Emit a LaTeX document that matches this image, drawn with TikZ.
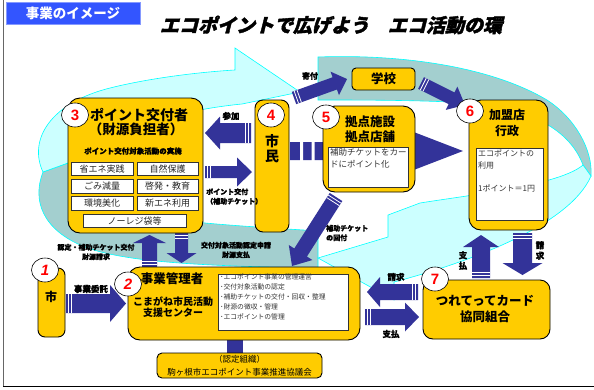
\documentclass[tikz,border=0pt]{standalone}
\usepackage{fontspec}
\newfontfamily\jp{Noto Sans CJK JP}
\newfontfamily\jpheavy{Noto Sans CJK JP}[BoldFeatures={FakeBold=1.2}]
\newfontfamily\jptitle{Noto Sans CJK JP}[FakeSlant=0.25,BoldFeatures={FakeBold=2}]
\newfontfamily\numfont{Liberation Sans}
\usetikzlibrary{calc,positioning,shapes.geometric}

\definecolor{boxyellow}{HTML}{FFCC00}
\definecolor{arrowblue}{HTML}{333399}
\definecolor{ringfront}{HTML}{CCFFFF}
\definecolor{ringback}{HTML}{A3CFCF}
\definecolor{ringedge}{HTML}{00FFFF}
\definecolor{tagblue}{HTML}{3355FF}

\newcommand\fsz[2]{\fontsize{#1}{#2}\selectfont}

\tikzset{
  ybox/.style={draw=black, line width=0.9pt, fill=boxyellow, rounded corners=#1, inner sep=0pt},
  ybox/.default=10pt,
  wbox/.style={draw=black!80, line width=0.6pt, fill=white, inner sep=0pt},
  cell/.style={wbox, minimum width=61pt, minimum height=13.5pt, font=\jp\fsz{9}{9}, text=black!85},
  note/.style={inner sep=0pt, align=left, text=black!80, font=\jp\fsz{8.5}{12}},
  numc/.style={ellipse, draw=black, line width=0.6pt, fill=white, minimum width=27pt,
    minimum height=24pt, inner sep=0pt, text=red, font=\numfont\bfseries\fsz{15}{15}},
  numci/.style={numc, font=\numfont\bfseries\itshape\fsz{15}{15}},
  ttl/.style={inner sep=0pt, font=\jp\bfseries\fsz{#1}{#1}},
  lbl/.style={inner sep=0pt, font=\jpheavy\bfseries\fsz{8.5}{10.5}},
  lbls/.style={inner sep=0pt, font=\jpheavy\bfseries\fsz{7}{9.5}},
  ringA/.style={fill=ringfront, draw=ringedge, line width=0.6pt},
  ringB/.style={fill=ringback, draw=ringedge, line width=0.6pt},
  stripe/.style={white, line width=0.8pt}
}

% block arrow: [stripes] {tail}{tip}{shaft half width}{head half width}{head length}
\newcommand\blockarrow[6][2.5pt,5.5pt]{%
  \coordinate (ba) at ($(#3)!#6!(#2)$);
  \fill[arrowblue] ($(#2)!#4!90:(#3)$) -- ($(ba)!#4!90:(#3)$) -- ($(ba)!#5!90:(#3)$) -- (#3)
    -- ($(ba)!#5!-90:(#3)$) -- ($(ba)!#4!-90:(#3)$) -- ($(#2)!#4!-90:(#3)$) -- cycle;
  \foreach \sd in {#1}{%
    \coordinate (bs) at ($(#2)!\sd!(#3)$);
    \draw[stripe] ($(bs)!#4!90:(#3)$) -- ($(bs)!#4!-90:(#3)$);}%
}

\begin{document}
\begin{tikzpicture}[x=1pt,y=-1pt]
\useasboundingbox (0,0) rectangle (594,389);

% frame
\draw[black!60, line width=0.8pt] (3,0) -- (3,386.5);
\draw[black, line width=0.8pt] (3,386.5) -- (594,386.5);

% the ring
\path[ringB] (43,172) -- (68,163) .. controls (110,200) and (160,218) .. (205,223)
  .. controls (250,227) and (290,229) .. (318,231) -- (318,268)
  .. controls (180,266) and (120,260) .. (85,247) .. controls (42,230) and (32,200) .. (43,172) -- cycle;
\path[ringA] (43,172) .. controls (28,140) and (50,103) .. (110,88) .. controls (150,78) and (200,72) .. (235,70)
  -- (235,48) -- (300,92) -- (242,104) .. controls (160,112) and (90,140) .. (68,163) -- cycle;
\path[ringB] (318,57) .. controls (400,54) and (490,66) .. (547,100) .. controls (575,118) and (593,150) .. (591,176)
  -- (583,165) .. controls (570,130) and (530,108) .. (470,103) .. controls (420,100) and (360,100) .. (318,100) -- cycle;
\path[ringA] (583,165) .. controls (560,185) and (470,195) .. (420,203) -- (388,215) -- (388,237) -- (318,258)
  -- (394,300) -- (394,282) .. controls (470,262) and (570,225) .. (591,176) -- cycle;

% arrows
\coordinate (sanka-s) at (251,133);   \coordinate (sanka-e) at (205,133);
\coordinate (kofu-s) at (205,172);    \coordinate (kofu-e) at (252,172);
\coordinate (riyo-s) at (290,151);    \coordinate (riyo-e) at (463,151);
\coordinate (kifu-s) at (294,98);     \coordinate (kifu-e) at (347,79);
\coordinate (gakko-s) at (421,83);    \coordinate (gakko-e) at (465,105);
\coordinate (kaifu-s) at (336,197);   \coordinate (kaifu-e) at (292,266);
\coordinate (nintei-s) at (149.5,267); \coordinate (nintei-e) at (149.5,235);
\coordinate (shinsei-s) at (181.5,233); \coordinate (shinsei-e) at (181.5,263);
\coordinate (itaku-s) at (66,303.5);  \coordinate (itaku-e) at (126,303.5);
\coordinate (seikyu-s) at (418,292);  \coordinate (seikyu-e) at (367,292);
\coordinate (shiharai-s) at (365,317); \coordinate (shiharai-e) at (419,317);
\coordinate (kshi-s) at (481,278);    \coordinate (kshi-e) at (481,235);
\coordinate (ksei-s) at (522.5,233);  \coordinate (ksei-e) at (522.5,275);

\blockarrow{sanka-s}{sanka-e}{10pt}{16.5pt}{15pt}
\blockarrow{kofu-s}{kofu-e}{6pt}{14.5pt}{15pt}
\blockarrow[11.5pt,23pt]{riyo-s}{riyo-e}{9pt}{18.5pt}{48pt}
\fill[white] (300,141) rectangle (303,161) (311.5,141) rectangle (314.5,161);
\blockarrow{kifu-s}{kifu-e}{6.5pt}{12.5pt}{13pt}
\blockarrow{gakko-s}{gakko-e}{6.5pt}{13pt}{15pt}
\blockarrow{kaifu-s}{kaifu-e}{7.5pt}{14pt}{16pt}
\blockarrow{nintei-s}{nintei-e}{7.5pt}{16.5pt}{8pt}
\blockarrow{shinsei-s}{shinsei-e}{6.5pt}{15pt}{10pt}
\blockarrow{itaku-s}{itaku-e}{9.5pt}{18.5pt}{16pt}
\blockarrow{seikyu-s}{seikyu-e}{8pt}{15pt}{13pt}
\blockarrow{shiharai-s}{shiharai-e}{8pt}{14.5pt}{14pt}
\blockarrow{kshi-s}{kshi-e}{9pt}{18pt}{12pt}
\blockarrow{ksei-s}{ksei-e}{9.5pt}{20pt}{12pt}

% title
\node[fill=tagblue, draw=tagblue!60!white, line width=0.8pt, minimum width=134pt, minimum height=22pt,
  inner sep=0pt, text=white, font=\jp\bfseries\fsz{13.5}{14}] (tag) at (73,13) {事業のイメージ};
\node[inner sep=0pt, font=\jptitle\bfseries\fsz{19}{20}] (title) at (331,25) {エコポイントで広げよう　エコ活動の環};

% 3 point giver
\node[ybox=12pt, minimum width=135pt, minimum height=135pt] (kofu) at (135.5,165.5) {};
\node[ttl=14] (kofu-t1) at (139,115) {ポイント交付者};
\node[ttl=13.5] (kofu-t2) at (136,129) {（財源負担者）};
\node[lbls, font=\jpheavy\bfseries\fsz{7.5}{8}] (kofu-t3) at (133,151) {ポイント交付対象活動の実施};
\node[cell, minimum width=62pt] (c-shoene) at (102,169) {省エネ実践};
\node[cell] (c-shizen) at (167.5,169) {自然保護};
\node[cell, minimum width=62pt] (c-gomi) at (102,186.5) {ごみ減量};
\node[cell] (c-keihatsu) at (167.5,186.5) {啓発・教育};
\node[cell, minimum width=62pt] (c-kankyo) at (102,203.5) {環境美化};
\node[cell] (c-shinene) at (167.5,203.5) {新エネ利用};
\node[cell, minimum width=103pt] (c-noreji) at (134.5,221) {ノーレジ袋等};

% 4 citizens
\node[ybox=8pt, minimum width=34pt, minimum height=132pt] (shimin) at (272,166) {};
\node[ttl=14] (shimin-t1) at (272,141) {市};
\node[ttl=14] (shimin-t2) at (272,156) {民};

% 5 base facilities
\node[ybox=12pt, minimum width=92pt, minimum height=86pt] (kyoten) at (369,149) {};
\node[ttl=12.5, align=center, font=\jp\bfseries\fsz{12.5}{14.5}] (kyoten-t) at (370,129.5) {拠点施設\\拠点店舗};
\node[wbox, minimum width=80pt, minimum height=40pt] (kyoten-in) at (368,167) {};
\node[note, anchor=north west] (kyoten-txt) at (330,148.5) {補助チケットをカー\\ドにポイント化};

% 6 member shops
\node[ybox=12pt, minimum width=79pt, minimum height=130pt] (kamei) at (508.5,165) {};
\node[ttl=12, align=center, font=\jp\bfseries\fsz{12}{16}] (kamei-t) at (507,123) {加盟店\\行政};
\node[wbox, minimum width=67pt, minimum height=72pt] (kamei-in) at (509.5,184) {};
\node[note, anchor=north west, font=\jp\fsz{8}{12}] (kamei-txt) at (478,150) {エコポイントの\\利用\\[11pt]1ポイント＝1円};

% school
\node[ybox=4pt, minimum width=63pt, minimum height=22pt, font=\jp\bfseries\fsz{12.5}{13}] (gakko) at (383.5,79) {学校};

% 1 city
\node[ybox=7pt, minimum width=27pt, minimum height=69pt] (shi) at (51.5,302.5) {};
\node[ttl=12] (shi-t) at (51,297) {市};

% 2 manager
\draw[arrowblue, line width=16pt] (235,338) coordinate (kanri-b) -- (235,355) coordinate (kyo-t);
\node[ybox=12pt, minimum width=232pt, minimum height=73pt] (kanri) at (244,303.5) {};
\node[ttl=12.5] (kanri-t1) at (172,279) {事業管理者};
\node[ttl=10, align=center, font=\jp\bfseries\fsz{10}{11}] (kanri-t2) at (173,307.5) {こまがね市民活動\\支援センター};
\node[wbox, minimum width=130pt, minimum height=56pt] (kanri-in) at (283,302) {};
\node[note, anchor=north west, font=\jp\fsz{6.8}{10}] (kanri-txt) at (220,274) {･エコポイント事業の管理運営\\･交付対象活動の認定\\･補助チケットの交付・回収・整理\\･財源の徴収・管理\\･エコポイントの管理};

% council
\node[ybox=5pt, minimum width=165pt, minimum height=25pt, align=center, font=\jp\fsz{8.5}{13}] (kyogikai) at (239.5,365.5) {（認定組織）\\駒ヶ根市エコポイント事業推進協議会};

% 7 card union
\node[ybox=10pt, minimum width=127pt, minimum height=59pt] (tsurete) at (486.5,309.5) {};
\node[ttl=12.5, align=center, font=\jp\bfseries\fsz{12.5}{16}] (tsurete-t) at (485,309) {つれてってカード\\協同組合};

% numbers
\node[numci] (n1) at (45,270) {1};
\node[numci] (n2) at (128,284) {2};
\node[numc] (n3) at (75,115) {3};
\node[numc] (n4) at (271,115) {4};
\node[numc] (n5) at (326,117) {5};
\node[numc] (n6) at (470,111) {6};
\node[numc] (n7) at (435,279) {7};

% labels
\node[lbl] (l-sanka) at (231,116) {参加};
\node[lbls, anchor=west, align=left] (l-kofu) at (206,196.5) {ポイント交付\\（補助チケット）};
\node[lbl, font=\jpheavy\bfseries\fsz{8}{10}] (l-kifu) at (310,76) {寄付};
\node[lbls, anchor=west, align=left] (l-kaifu) at (326,233) {補助チケット\\の回付};
\node[lbls, align=center] (l-nintei) at (96,252) {認定・補助チケット交付\\財源請求};
\node[lbls, align=center] (l-shinsei) at (236,250) {交付対象活動認定申請\\財源支払};
\node[lbl] (l-itaku) at (91,289) {事業委託};
\node[lbl] (l-seikyu) at (396,277) {請求};
\node[lbl] (l-shiharai) at (391,334) {支払};
\node[lbl, align=center] (l-kshi) at (463,260.5) {支\\払};
\node[lbl, align=center] (l-ksei) at (540,250.5) {請\\求};
\end{tikzpicture}
\end{document}
